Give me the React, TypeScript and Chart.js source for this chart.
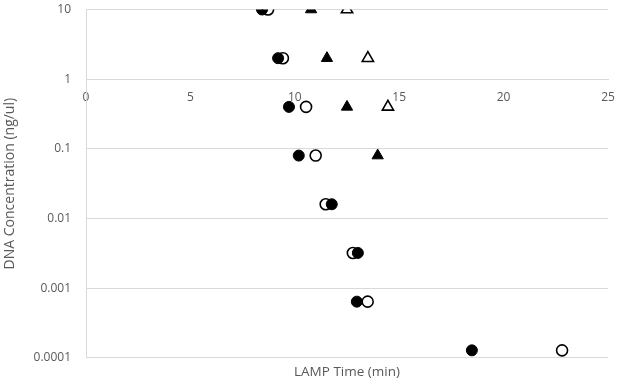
import React, { useEffect, useRef } from "react";
import { Chart, registerables } from "chart.js";

Chart.register(...registerables);

// DNA concentrations (ng/ul), 5-fold dilution series
const concentrations = [10, 2, 0.4, 0.08, 0.016, 0.0032, 0.00064, 0.000128];
// LAMP times (min) for each marker series
const filledCircleTimes = [8.43, 9.2, 9.72, 10.19, 11.77, 13.02, 12.97, 18.48];
const openCircleTimes = [8.72, 9.43, 10.54, 11.0, 11.48, 12.78, 13.49, 22.8];
const filledTriangleTimes = [10.78, 11.54, 12.5, 13.97];
const openTriangleTimes = [12.5, 13.5, 14.46];

const yTickValues = [0.0001, 0.001, 0.01, 0.1, 1, 10];
const yTickLabels = ["0.0001", "0.001", "0.01", "0.1", "1", "10"];
const xTickLabels = ["0", "5", "10", "15", "20", "25"];

const toPoints = (times: number[]) =>
  times.map((t, i) => ({ x: t, y: concentrations[i] }));

export default function App() {
  const ref = useRef<HTMLCanvasElement | null>(null);

  useEffect(() => {
    if (!ref.current) return;
    const family = "'Open Sans', sans-serif";
    const font = { family, size: 12 };
    const grey = "#595959";
    const gridColor = "#d9d9d9";
    const chart = new Chart(ref.current, {
      type: "scatter",
      data: {
        datasets: [
          {
            label: "Filled circle",
            data: toPoints(filledCircleTimes),
            pointStyle: "circle",
            pointRadius: 5.5,
            backgroundColor: "#000000",
            borderColor: "#000000",
            borderWidth: 1,
          },
          {
            label: "Open circle",
            data: toPoints(openCircleTimes),
            pointStyle: "circle",
            pointRadius: 5.5,
            backgroundColor: "#ffffff",
            borderColor: "#000000",
            borderWidth: 1.6,
          },
          {
            label: "Filled triangle",
            data: toPoints(filledTriangleTimes),
            pointStyle: "triangle",
            pointRadius: 6.5,
            backgroundColor: "#000000",
            borderColor: "#000000",
            borderWidth: 1,
          },
          {
            label: "Open triangle",
            data: toPoints(openTriangleTimes),
            pointStyle: "triangle",
            pointRadius: 6.5,
            backgroundColor: "#ffffff",
            borderColor: "#000000",
            borderWidth: 1.6,
          },
        ],
      },
      options: {
        animation: false,
        responsive: false,
        maintainAspectRatio: false,
        layout: { padding: { top: 9.5, right: 11, left: 0, bottom: 0 } },
        plugins: {
          legend: { display: false },
          tooltip: { enabled: false },
          title: {
            display: true,
            position: "bottom",
            fullSize: false,
            text: "LAMP Time (min)",
            color: grey,
            font: { family, size: 13.5, weight: "normal" },
            padding: { top: 6, bottom: 2 },
          },
        },
        scales: {
          x: {
            type: "linear",
            min: 0,
            max: 25,
            position: { y: 1 } as any,
            afterBuildTicks: (s: any) => {
              s.ticks = xTickLabels.map((l) => ({ value: Number(l) }));
            },
            afterFit: (s: any) => {
              s.paddingLeft = 0;
              s.paddingRight = 0;
              s.paddingTop = 0;
              s.paddingBottom = 0;
            },
            ticks: {
              color: grey,
              font,
              padding: 11,
              maxRotation: 0,
              callback: (v: any) => String(v),
            },
            grid: { display: false, drawTicks: false },
            border: { display: true, color: gridColor, width: 1 },
          },
          y: {
            type: "logarithmic",
            min: 0.0001,
            max: 10,
            afterBuildTicks: (s: any) => {
              s.ticks = yTickValues.map((v) => ({ value: v, major: false }));
            },
            afterFit: (s: any) => {
              s.width = 86;
              s.paddingTop = 0;
              s.paddingBottom = 0;
            },
            ticks: {
              color: grey,
              font,
              padding: 15,
              callback: (v: any) => {
                const i = yTickValues.findIndex(
                  (t) => Math.abs(Math.log10(t) - Math.log10(Number(v))) < 1e-6
                );
                return i >= 0 ? yTickLabels[i] : "";
              },
            },
            grid: { color: gridColor, lineWidth: 1, drawTicks: false },
            border: { display: true, color: gridColor, width: 1 },
            title: {
              display: true,
              text: "DNA Concentration (ng/ul)",
              color: grey,
              font: { family, size: 14 },
              padding: { top: 2, bottom: 0 },
            },
          },
        },
      },
    });
    return () => chart.destroy();
  }, []);

  return (
    <div style={{ position: "absolute", left: 0, top: 0, width: 619, height: 382, background: "#fff" }}>
      <canvas ref={ref} width={619} height={382} style={{ width: 619, height: 382, display: "block" }} />
    </div>
  );
}
